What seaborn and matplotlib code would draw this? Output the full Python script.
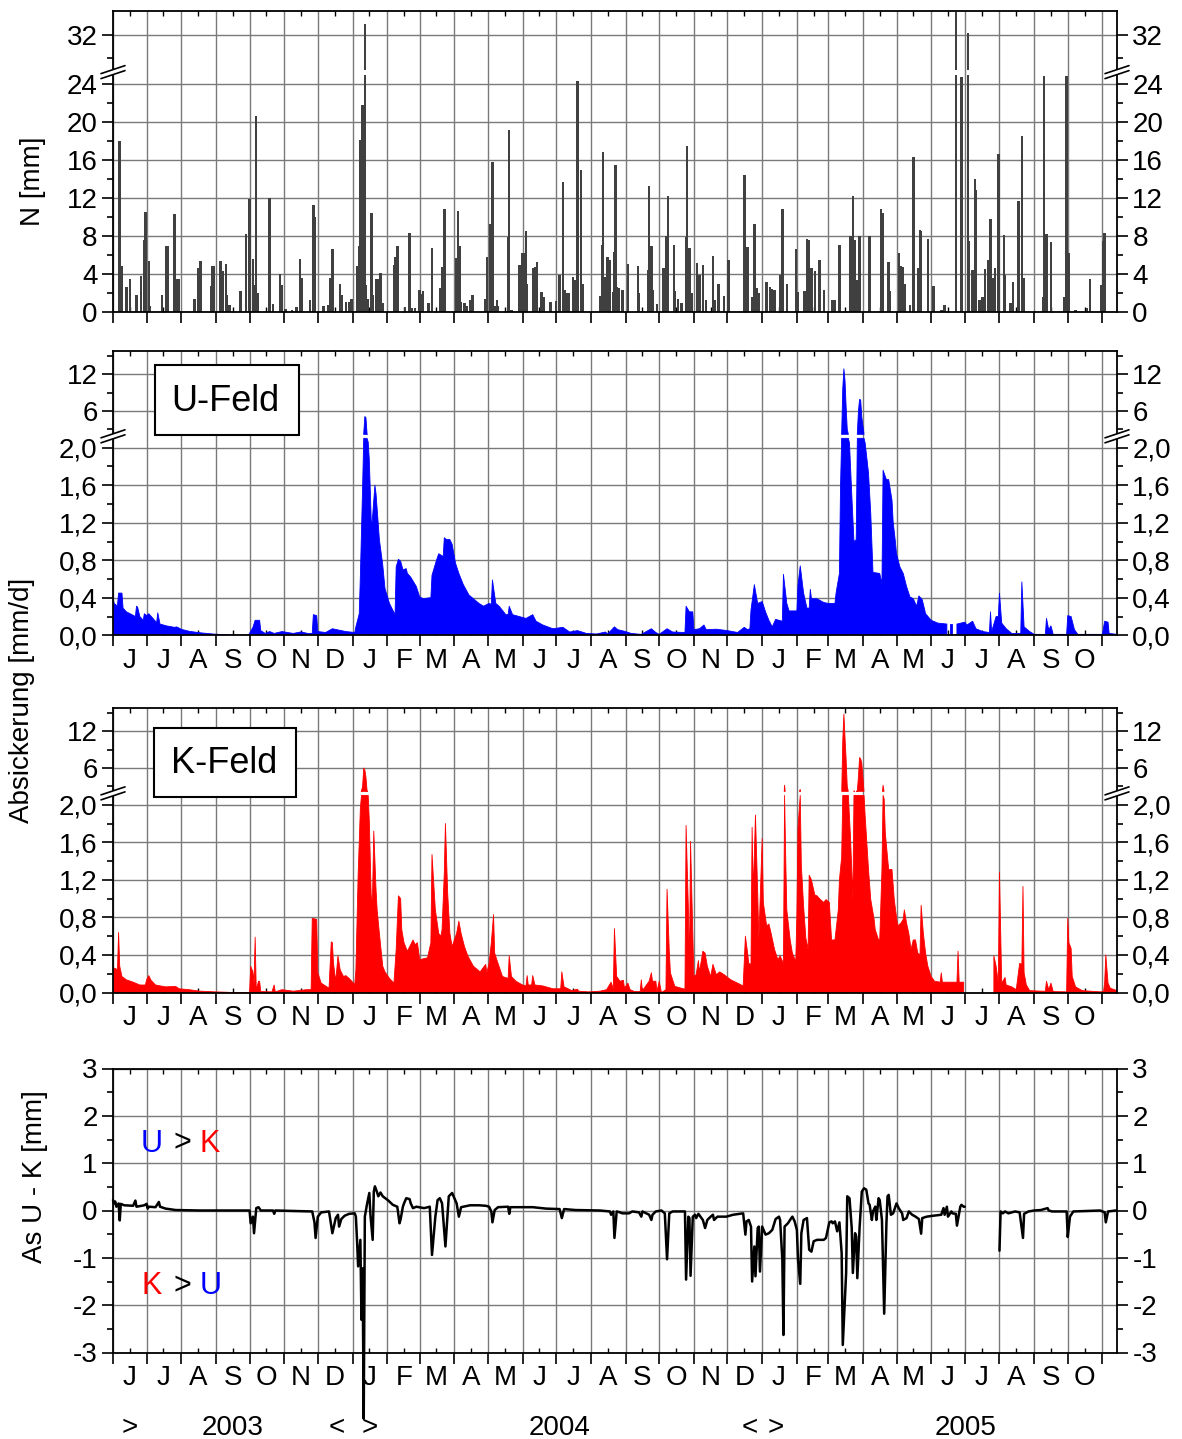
import numpy as np
import pandas as pd
import matplotlib
matplotlib.use("Agg")
import matplotlib.pyplot as plt
import matplotlib.dates as mdates
from matplotlib.ticker import FixedLocator, FixedFormatter, NullFormatter
from matplotlib.lines import Line2D
from matplotlib.patches import Polygon, Rectangle
from matplotlib.transforms import IdentityTransform, blended_transform_factory
import seaborn as sns

nan = float("nan")

# ---------------- data ----------------
# daily precipitation N [mm] (days not listed = 0)
precip = [
("2003-06-07",18.0),("2003-06-09",4.8),("2003-06-13",2.6),("2003-06-16",3.5),("2003-06-22",1.8),("2003-06-26",3.8),("2003-06-29",7.6),("2003-06-30",10.5),
("2003-07-03",5.4),("2003-07-04",0.6),("2003-07-15",1.8),("2003-07-19",6.9),("2003-07-20",6.9),("2003-07-26",10.3),("2003-07-28",3.5),("2003-07-30",3.5),
("2003-08-13",1.4),("2003-08-16",4.6),("2003-08-18",5.4),("2003-08-28",2.7),("2003-08-29",4.8),("2003-08-30",4.8),
("2003-09-05",5.4),("2003-09-07",4.3),("2003-09-10",5.1),("2003-09-11",1.8),("2003-09-13",0.7),("2003-09-23",2.2),("2003-09-28",8.2),
("2003-10-01",11.9),("2003-10-04",5.6),("2003-10-06",2.8),("2003-10-07",20.6),("2003-10-08",2.0),("2003-10-19",12.0),("2003-10-22",0.8),("2003-10-28",4.0),("2003-10-30",2.8),
("2003-11-02",0.3),("2003-11-08",0.2),("2003-11-12",0.5),("2003-11-15",5.6),("2003-11-17",3.6),("2003-11-24",1.3),("2003-11-27",11.3),("2003-11-28",10.0),
("2003-12-06",0.6),("2003-12-10",0.7),("2003-12-12",3.6),("2003-12-14",6.6),("2003-12-21",3.0),("2003-12-22",1.8),("2003-12-26",1.1),("2003-12-29",1.1),("2003-12-31",1.4),
("2004-01-05",4.8),("2004-01-07",6.9),("2004-01-08",18.1),("2004-01-10",21.8),("2004-01-12",33.9),("2004-01-13",2.8),("2004-01-15",1.4),("2004-01-18",10.4),("2004-01-19",1.8),("2004-01-22",3.5),("2004-01-24",3.5),("2004-01-26",4.1),("2004-01-28",0.9),
("2004-02-07",4.9),("2004-02-08",5.8),("2004-02-10",6.9),("2004-02-17",0.5),("2004-02-21",8.3),("2004-02-23",0.4),("2004-02-26",0.4),
("2004-03-01",2.3),("2004-03-02",1.9),("2004-03-04",2.2),("2004-03-09",0.9),("2004-03-12",6.7),("2004-03-19",2.5),("2004-03-21",4.7),("2004-03-23",10.9),
("2004-04-03",5.7),("2004-04-04",10.6),("2004-04-06",6.9),("2004-04-07",1.1),("2004-04-10",0.9),("2004-04-12",0.6),("2004-04-15",1.3),("2004-04-17",1.8),("2004-04-29",1.4),("2004-04-30",5.8),
("2004-05-03",9.3),("2004-05-04",1.3),("2004-05-05",15.8),("2004-05-07",0.6),("2004-05-09",1.3),("2004-05-10",0.6),("2004-05-19",7.9),("2004-05-20",19.2),("2004-05-22",0.2),("2004-05-29",4.9),
("2004-06-01",6.2),("2004-06-02",6.2),("2004-06-04",8.5),("2004-06-05",3.0),("2004-06-10",4.6),("2004-06-12",4.7),("2004-06-14",5.3),("2004-06-18",2.1),("2004-06-20",1.6),("2004-06-26",1.1),
("2004-07-01",1.2),("2004-07-04",3.9),("2004-07-07",13.7),("2004-07-09",2.3),("2004-07-11",2.0),("2004-07-12",2.0),("2004-07-16",3.7),("2004-07-18",3.4),("2004-07-20",24.3),("2004-07-23",15.0),("2004-07-25",2.9),
("2004-08-09",1.7),("2004-08-11",7.1),("2004-08-12",16.8),("2004-08-14",3.7),("2004-08-16",5.8),("2004-08-18",5.5),("2004-08-21",2.1),("2004-08-22",6.3),("2004-08-23",15.5),("2004-08-24",2.6),("2004-08-26",2.5),("2004-08-29",2.3),
("2004-09-03",5.1),("2004-09-12",4.8),("2004-09-13",2.0),("2004-09-21",4.4),("2004-09-22",13.3),("2004-09-24",6.9),("2004-09-25",2.3),("2004-09-29",0.8),
("2004-10-05",4.6),("2004-10-07",8.0),("2004-10-09",12.2),("2004-10-14",7.1),("2004-10-15",2.2),("2004-10-18",1.4),("2004-10-21",0.9),("2004-10-25",7.9),("2004-10-26",17.5),("2004-10-28",6.7),("2004-10-30",2.0),
("2004-11-04",5.2),("2004-11-06",3.9),("2004-11-09",4.9),("2004-11-12",1.3),("2004-11-18",5.9),("2004-11-20",1.3),("2004-11-23",3.0),("2004-11-28",1.7),
("2004-12-02",5.5),("2004-12-16",14.4),("2004-12-19",6.8),("2004-12-23",1.6),("2004-12-25",9.3),("2004-12-27",2.5),("2004-12-29",2.0),
("2005-01-05",3.2),("2005-01-08",2.6),("2005-01-10",2.4),("2005-01-12",2.3),("2005-01-17",3.9),("2005-01-19",10.9),("2005-01-23",3.0),("2005-01-31",6.6),
("2005-02-02",2.1),("2005-02-08",2.2),("2005-02-10",7.7),("2005-02-12",7.6),("2005-02-14",4.6),("2005-02-17",4.3),("2005-02-21",5.5),("2005-02-25",2.3),
("2005-03-05",1.3),("2005-03-07",1.3),("2005-03-11",7.1),("2005-03-21",8.0),("2005-03-23",12.2),("2005-03-25",7.6),("2005-03-27",3.4),("2005-03-29",8.0),
("2005-04-07",8.0),("2005-04-17",10.8),("2005-04-19",10.4),("2005-04-24",5.3),("2005-04-25",2.2),
("2005-05-03",6.2),("2005-05-05",4.8),("2005-05-07",4.7),("2005-05-08",3.0),("2005-05-13",0.7),("2005-05-16",16.3),("2005-05-20",4.6),("2005-05-22",8.6),("2005-05-23",8.5),("2005-05-29",7.7),
("2005-06-03",2.7),("2005-06-10",0.2),("2005-06-13",0.7),("2005-06-23",36.0),("2005-06-28",24.8),
("2005-07-04",32.3),("2005-07-05",7.5),("2005-07-08",4.4),("2005-07-10",14.0),("2005-07-11",12.8),("2005-07-14",1.3),("2005-07-17",1.6),("2005-07-19",4.5),("2005-07-22",5.5),("2005-07-24",9.8),("2005-07-26",3.6),("2005-07-28",4.6),("2005-07-31",16.6),
("2005-08-05",8.1),("2005-08-06",3.9),("2005-08-11",0.9),("2005-08-13",3.2),("2005-08-18",11.7),("2005-08-21",18.5),("2005-08-23",3.6),
("2005-09-09",1.6),("2005-09-10",24.9),("2005-09-12",8.2),("2005-09-16",7.4),("2005-09-28",1.6),("2005-09-30",24.9),
("2005-10-02",6.2),("2005-10-08",0.2),("2005-10-18",0.4),("2005-10-21",3.5),("2005-10-31",2.8),
("2005-11-02",7.5),("2005-11-03",8.3),
]

# seepage U-Feld [mm/d]
seep_u = [
("2003-06-01",0.41),("2003-06-02",0.34),("2003-06-04",0.32),("2003-06-05",0.32),("2003-06-06",0.45),("2003-06-09",0.45),("2003-06-10",0.29),("2003-06-13",0.25),("2003-06-18",0.22),("2003-06-21",0.20),("2003-06-22",0.31),("2003-06-23",0.30),("2003-06-25",0.20),("2003-06-28",0.16),("2003-06-29",0.23),("2003-07-01",0.21),("2003-07-03",0.23),("2003-07-06",0.19),("2003-07-10",0.135),("2003-07-11",0.24),("2003-07-13",0.12),("2003-07-19",0.10),("2003-07-26",0.085),("2003-07-28",0.09),("2003-08-01",0.064),("2003-08-08",0.043),("2003-08-17",0.028),("2003-08-29",0.014),("2003-09-08",0.007),("2003-09-15",0.0),("2003-09-30",0.0),
("2003-10-01",0.02),("2003-10-04",0.085),("2003-10-06",0.16),("2003-10-10",0.16),("2003-10-11",0.05),("2003-10-15",0.02),("2003-10-19",0.04),("2003-10-23",0.02),("2003-10-30",0.04),("2003-11-09",0.02),("2003-11-16",0.036),("2003-11-22",0.02),("2003-11-26",0.02),("2003-11-27",0.22),("2003-11-30",0.21),("2003-12-01",0.04),("2003-12-08",0.03),("2003-12-14",0.07),("2003-12-18",0.06),("2003-12-26",0.04),("2004-01-03",0.03),("2004-01-04",0.09),
("2004-01-07",0.23),("2004-01-08",0.63),("2004-01-10",1.58),("2004-01-11",2.3),("2004-01-12",5.1),("2004-01-13",4.9),("2004-01-14",2.25),("2004-01-15",2.06),("2004-01-16",1.87),("2004-01-18",1.12),("2004-01-21",1.60),("2004-01-22",1.51),("2004-01-25",1.02),("2004-01-28",0.75),("2004-01-30",0.50),("2004-02-03",0.34),("2004-02-08",0.22),("2004-02-09",0.73),("2004-02-11",0.81),("2004-02-13",0.79),("2004-02-15",0.70),("2004-02-18",0.71),("2004-02-19",0.66),("2004-02-22",0.62),("2004-02-27",0.52),("2004-03-01",0.41),("2004-03-04",0.39),("2004-03-10",0.40),("2004-03-11",0.40),("2004-03-12",0.64),("2004-03-16",0.80),("2004-03-18",0.87),("2004-03-22",0.84),("2004-03-23",1.04),("2004-03-25",1.02),("2004-03-28",1.02),("2004-03-30",0.97),("2004-04-02",0.77),("2004-04-05",0.66),("2004-04-09",0.54),("2004-04-14",0.43),("2004-04-18",0.39),("2004-04-23",0.34),("2004-04-27",0.31),("2004-05-02",0.34),("2004-05-04",0.33),("2004-05-05",0.59),("2004-05-08",0.34),("2004-05-11",0.31),("2004-05-17",0.22),("2004-05-19",0.22),("2004-05-20",0.31),("2004-05-23",0.22),("2004-05-29",0.20),("2004-06-04",0.18),("2004-06-10",0.22),("2004-06-13",0.15),("2004-06-19",0.11),("2004-06-28",0.07),("2004-07-07",0.085),("2004-07-13",0.035),("2004-07-20",0.05),("2004-07-28",0.02),("2004-08-06",0.014),("2004-08-14",0.035),("2004-08-16",0.014),("2004-08-22",0.09),("2004-08-25",0.06),
("2004-09-01",0.04),("2004-09-06",0.02),("2004-09-15",0.01),("2004-09-24",0.07),("2004-09-28",0.03),("2004-10-01",0.01),("2004-10-08",0.07),("2004-10-13",0.035),("2004-10-24",0.03),("2004-10-25",0.31),("2004-10-28",0.25),("2004-10-31",0.25),("2004-11-01",0.06),("2004-11-06",0.07),("2004-11-10",0.11),("2004-11-12",0.06),("2004-11-21",0.065),("2004-12-01",0.05),("2004-12-10",0.03),("2004-12-16",0.085),("2004-12-19",0.06),("2004-12-21",0.07),("2004-12-22",0.27),("2004-12-25",0.54),("2004-12-28",0.34),("2005-01-01",0.36),("2005-01-04",0.25),("2005-01-07",0.16),("2005-01-10",0.09),("2005-01-13",0.17),("2005-01-19",0.15),("2005-01-20",0.65),("2005-01-23",0.34),("2005-01-25",0.26),("2005-01-29",0.26),("2005-02-01",0.26),("2005-02-02",0.54),("2005-02-04",0.74),("2005-02-07",0.45),("2005-02-10",0.29),("2005-02-12",0.29),("2005-02-13",0.49),("2005-02-14",0.39),("2005-02-19",0.39),("2005-02-25",0.35),("2005-03-01",0.34),("2005-03-07",0.34),("2005-03-08",0.45),("2005-03-11",0.66),("2005-03-12",1.6),("2005-03-13",2.3),("2005-03-14",9.7),("2005-03-15",12.9),("2005-03-16",11.0),("2005-03-17",6.7),("2005-03-18",3.0),("2005-03-19",2.2),("2005-03-20",2.05),("2005-03-22",1.51),("2005-03-24",1.0),("2005-03-26",1.02),("2005-03-27",2.3),("2005-03-28",6.0),("2005-03-29",7.9),("2005-03-30",7.8),("2005-03-31",5.0),("2005-04-01",3.6),("2005-04-02",2.2),("2005-04-03",2.05),("2005-04-06",1.73),("2005-04-08",1.30),("2005-04-10",0.67),("2005-04-16",0.66),("2005-04-18",0.55),("2005-04-19",1.76),("2005-04-22",1.66),("2005-04-24",1.66),("2005-04-27",1.44),("2005-04-28",1.21),("2005-04-30",1.0),("2005-05-01",0.87),("2005-05-04",0.73),("2005-05-07",0.66),("2005-05-10",0.52),("2005-05-13",0.41),("2005-05-16",0.39),("2005-05-19",0.31),("2005-05-21",0.42),("2005-05-24",0.38),("2005-05-27",0.23),("2005-06-01",0.16),("2005-06-07",0.13),("2005-06-15",0.12),("2005-06-16",nan),("2005-06-17",nan),("2005-06-18",0.12),("2005-06-20",0.12),("2005-06-21",nan),("2005-06-23",nan),("2005-06-24",0.12),("2005-07-01",0.14),("2005-07-03",0.11),("2005-07-08",0.15),("2005-07-11",0.07),("2005-07-17",0.04),("2005-07-23",0.03),("2005-07-24",0.25),("2005-07-25",0.04),("2005-07-29",0.20),("2005-07-31",0.20),("2005-08-01",0.45),("2005-08-03",0.13),("2005-08-07",0.07),("2005-08-12",0.02),("2005-08-20",0.02),("2005-08-21",0.57),("2005-08-23",0.09),("2005-08-28",0.04),("2005-09-01",0.01),("2005-09-11",0.01),("2005-09-12",0.18),("2005-09-14",0.06),("2005-09-16",0.10),("2005-09-18",0.01),("2005-09-30",0.01),("2005-10-01",0.21),("2005-10-04",0.20),("2005-10-07",0.06),("2005-10-10",0.01),("2005-10-30",0.01),("2005-11-01",0.01),("2005-11-02",0.085),("2005-11-03",0.15),("2005-11-06",0.14),("2005-11-07",0.02),("2005-11-14",0.01),
]

# seepage K-Feld [mm/d]
seep_k = [
("2003-06-01",0.20),("2003-06-02",0.26),("2003-06-04",0.25),("2003-06-05",0.24),("2003-06-06",0.64),("2003-06-07",0.28),("2003-06-09",0.17),("2003-06-13",0.135),("2003-06-19",0.11),("2003-06-25",0.08),("2003-06-30",0.08),("2003-07-01",0.135),("2003-07-03",0.18),("2003-07-05",0.13),("2003-07-09",0.08),("2003-07-18",0.06),("2003-07-27",0.065),("2003-07-30",0.04),("2003-08-08",0.03),("2003-08-17",0.015),("2003-08-31",0.007),("2003-09-10",0.003),("2003-09-16",0.0),("2003-10-01",0.0),("2003-10-02",0.28),("2003-10-04",0.22),("2003-10-05",0.10),("2003-10-06",0.59),("2003-10-07",0.03),("2003-10-09",0.12),("2003-10-10",0.12),("2003-10-11",0.01),("2003-10-21",0.007),("2003-10-23",0.08),("2003-10-24",0.007),("2003-10-30",0.03),("2003-11-09",0.014),("2003-11-21",0.03),("2003-11-25",0.03),("2003-11-26",0.79),("2003-11-30",0.78),("2003-12-01",0.21),("2003-12-04",0.10),("2003-12-11",0.046),("2003-12-13",0.54),("2003-12-14",0.53),("2003-12-15",0.31),("2003-12-17",0.12),("2003-12-19",0.39),("2003-12-21",0.24),("2003-12-24",0.17),("2003-12-26",0.18),("2003-12-29",0.15),("2004-01-03",0.085),("2004-01-04",0.24),("2004-01-06",1.25),("2004-01-08",1.96),("2004-01-09",2.3),("2004-01-10",3.0),("2004-01-11",6.0),("2004-01-12",5.7),("2004-01-13",4.5),("2004-01-14",2.3),("2004-01-15",2.1),("2004-01-16",1.83),("2004-01-18",0.88),("2004-01-19",1.10),("2004-01-20",1.72),("2004-01-22",1.10),("2004-01-23",0.88),("2004-01-25",0.63),("2004-01-28",0.28),("2004-01-30",0.22),("2004-02-03",0.15),("2004-02-07",0.10),("2004-02-09",0.46),("2004-02-11",1.03),("2004-02-13",1.00),("2004-02-14",0.67),("2004-02-16",0.53),("2004-02-19",0.44),("2004-02-22",0.51),("2004-02-24",0.56),("2004-02-26",0.51),("2004-02-28",0.53),("2004-03-01",0.35),("2004-03-08",0.37),("2004-03-11",0.53),("2004-03-12",1.47),("2004-03-15",0.88),("2004-03-18",0.63),("2004-03-20",0.60),("2004-03-21",0.67),("2004-03-23",1.28),("2004-03-24",1.80),("2004-03-26",1.06),("2004-03-28",0.63),("2004-03-30",0.49),("2004-04-03",0.63),("2004-04-05",0.76),("2004-04-07",0.63),("2004-04-10",0.49),("2004-04-13",0.39),("2004-04-18",0.28),("2004-04-24",0.22),("2004-04-29",0.30),("2004-04-30",0.21),("2004-05-02",0.31),("2004-05-04",0.53),("2004-05-06",0.83),("2004-05-07",0.42),("2004-05-10",0.31),("2004-05-14",0.17),("2004-05-19",0.15),("2004-05-20",0.39),("2004-05-22",0.17),("2004-05-26",0.12),("2004-06-01",0.08),("2004-06-04",0.07),("2004-06-05",0.18),("2004-06-06",0.08),("2004-06-09",0.08),("2004-06-10",0.18),("2004-06-12",0.08),("2004-06-19",0.07),("2004-06-28",0.04),("2004-07-05",0.04),("2004-07-06",0.22),("2004-07-08",0.06),("2004-07-15",0.02),("2004-07-20",0.035),("2004-07-21",0.014),("2004-07-30",0.007),("2004-08-09",0.014),("2004-08-15",0.03),("2004-08-19",0.11),("2004-08-21",0.04),("2004-08-22",0.68),("2004-08-24",0.17),("2004-08-27",0.12),("2004-08-30",0.13),("2004-08-31",0.046),("2004-09-03",0.10),("2004-09-05",0.03),("2004-09-09",0.01),("2004-09-14",0.01),("2004-09-15",0.135),("2004-09-16",0.02),("2004-09-22",0.12),("2004-09-24",0.21),("2004-09-25",0.12),("2004-09-28",0.12),("2004-09-29",0.01),("2004-10-01",0.12),("2004-10-03",0.0),("2004-10-07",0.03),("2004-10-08",1.10),("2004-10-10",0.44),("2004-10-11",0.21),("2004-10-13",0.135),("2004-10-15",0.065),("2004-10-24",0.035),("2004-10-25",1.78),("2004-10-27",0.92),("2004-10-28",0.28),("2004-10-29",1.61),("2004-10-31",0.63),("2004-11-01",0.17),("2004-11-03",0.19),("2004-11-05",0.34),("2004-11-06",0.22),("2004-11-09",0.44),("2004-11-11",0.42),("2004-11-13",0.28),("2004-11-16",0.17),("2004-11-18",0.30),("2004-11-21",0.19),("2004-11-24",0.22),("2004-11-28",0.19),("2004-12-04",0.135),("2004-12-10",0.10),("2004-12-15",0.07),("2004-12-17",0.60),("2004-12-19",0.42),("2004-12-20",0.31),("2004-12-22",0.30),("2004-12-23",1.76),("2004-12-24",1.06),("2004-12-26",1.89),("2004-12-28",1.06),("2004-12-29",0.56),("2005-01-01",1.64),("2005-01-02",0.96),("2005-01-05",0.71),("2005-01-07",0.73),("2005-01-09",0.63),("2005-01-12",0.46),("2005-01-15",0.35),("2005-01-17",0.39),("2005-01-20",0.31),("2005-01-21",3.2),("2005-01-22",1.45),("2005-01-23",0.88),("2005-01-26",0.56),("2005-01-28",0.42),("2005-01-31",0.33),("2005-02-01",0.83),("2005-02-02",1.76),("2005-02-04",2.5),("2005-02-05",1.35),("2005-02-07",0.92),("2005-02-09",0.58),("2005-02-11",0.46),("2005-02-12",1.25),("2005-02-14",1.20),("2005-02-17",1.04),("2005-02-19",1.03),("2005-02-22",0.99),("2005-02-25",0.96),("2005-02-27",0.99),("2005-03-01",0.97),("2005-03-02",0.96),("2005-03-04",0.56),("2005-03-07",0.56),("2005-03-10",0.88),("2005-03-11",1.20),("2005-03-13",1.44),("2005-03-14",10.5),("2005-03-15",14.8),("2005-03-16",11.0),("2005-03-17",7.4),("2005-03-18",3.0),("2005-03-19",2.15),("2005-03-21",1.63),("2005-03-23",0.99),("2005-03-24",2.3),("2005-03-25",2.1),("2005-03-27",2.3),("2005-03-28",4.6),("2005-03-29",7.7),("2005-03-30",7.5),("2005-03-31",6.8),("2005-04-02",2.1),("2005-04-03",1.88),("2005-04-06",1.31),("2005-04-08",0.99),("2005-04-11",0.78),("2005-04-12",0.67),("2005-04-15",0.56),("2005-04-16",0.56),("2005-04-18",1.31),("2005-04-19",3.2),("2005-04-20",2.06),("2005-04-21",1.70),("2005-04-24",1.31),("2005-04-27",1.31),("2005-04-29",0.99),("2005-05-02",0.71),("2005-05-05",0.74),("2005-05-07",0.78),("2005-05-08",0.88),("2005-05-10",0.74),("2005-05-12",0.63),("2005-05-14",0.46),("2005-05-16",0.56),("2005-05-18",0.56),("2005-05-20",0.42),("2005-05-22",0.40),("2005-05-23",0.93),("2005-05-25",0.63),("2005-05-27",0.42),("2005-05-29",0.28),("2005-06-01",0.17),("2005-06-04",0.12),("2005-06-09",0.11),("2005-06-10",0.21),("2005-06-11",0.11),("2005-06-24",0.11),("2005-06-25",0.44),("2005-06-26",0.11),("2005-06-30",0.11),("2005-07-01",nan),("2005-07-26",nan),("2005-07-27",0.39),("2005-07-29",0.28),("2005-07-31",0.10),("2005-08-01",1.28),("2005-08-03",0.10),("2005-08-06",0.16),("2005-08-07",0.08),("2005-08-12",0.06),("2005-08-16",0.03),("2005-08-19",0.31),("2005-08-21",0.30),("2005-08-22",1.13),("2005-08-23",0.21),("2005-08-25",0.08),("2005-08-28",0.02),("2005-09-08",0.014),("2005-09-11",0.014),("2005-09-12",0.12),("2005-09-14",0.03),("2005-09-16",0.10),("2005-09-18",0.01),("2005-09-30",0.007),("2005-10-01",0.79),("2005-10-02",0.53),("2005-10-04",0.47),("2005-10-05",0.17),("2005-10-08",0.06),("2005-10-14",0.02),("2005-10-30",0.007),("2005-11-02",0.01),("2005-11-03",0.11),("2005-11-04",0.40),("2005-11-06",0.10),("2005-11-08",0.046),("2005-11-14",0.02),
]

# difference As U - K [mm]
diff_uk = [
("2003-06-01",0.22),("2003-06-02",0.15),("2003-06-03",0.19),("2003-06-04",0.08),("2003-06-06",0.15),("2003-06-07",-0.21),("2003-06-08",0.14),("2003-06-11",0.11),("2003-06-19",0.10),("2003-06-21",0.21),("2003-06-22",0.08),("2003-06-29",0.11),("2003-07-01",0.14),("2003-07-02",0.04),("2003-07-03",0.08),("2003-07-09",0.07),("2003-07-12",0.18),("2003-07-13",0.08),("2003-07-18",0.04),("2003-07-27",0.01),("2003-08-17",0.0),("2003-10-01",0.0),("2003-10-02",-0.27),("2003-10-04",-0.13),("2003-10-05",-0.48),("2003-10-07",0.05),("2003-10-09",0.07),("2003-10-11",0.0),("2003-10-22",0.0),("2003-10-23",-0.07),("2003-10-24",0.0),("2003-11-26",-0.02),("2003-11-28",-0.25),("2003-11-29",-0.58),("2003-12-01",-0.13),("2003-12-04",-0.04),("2003-12-11",-0.02),("2003-12-14",-0.48),("2003-12-17",-0.16),("2003-12-19",-0.09),("2003-12-20",-0.34),("2003-12-22",-0.18),("2003-12-25",-0.11),("2003-12-29",-0.07),("2004-01-03",-0.06),("2004-01-04",-0.13),("2004-01-05",-0.62),("2004-01-06",-1.18),("2004-01-08",-0.62),("2004-01-09",-2.31),("2004-01-10",-1.22),("2004-01-11",-4.4),("2004-01-12",-0.13),("2004-01-14",0.14),("2004-01-16",0.37),("2004-01-17",-0.09),("2004-01-19",-0.62),("2004-01-20",0.40),("2004-01-21",0.51),("2004-01-23",0.38),("2004-01-24",0.30),("2004-01-26",0.38),("2004-01-28",0.30),("2004-02-02",0.21),("2004-02-06",0.12),("2004-02-10",0.08),("2004-02-12",-0.27),("2004-02-13",-0.18),("2004-02-15",0.08),("2004-02-16",0.15),("2004-02-18",0.26),("2004-02-21",0.24),("2004-02-22",0.15),("2004-02-24",0.05),("2004-02-27",0.08),("2004-03-05",0.05),("2004-03-10",0.08),("2004-03-12",-0.94),("2004-03-15",-0.13),("2004-03-17",0.22),("2004-03-19",0.26),("2004-03-21",0.15),("2004-03-24",-0.76),("2004-03-26",-0.06),("2004-03-27",0.30),("2004-03-30",0.37),("2004-04-01",0.26),("2004-04-03",0.15),("2004-04-05",-0.13),("2004-04-07",0.07),("2004-04-15",0.11),("2004-04-23",0.11),("2004-04-29",0.10),("2004-05-02",0.08),("2004-05-04",-0.02),("2004-05-05",-0.25),("2004-05-07",0.01),("2004-05-10",0.07),("2004-05-19",0.08),("2004-05-20",-0.07),("2004-05-21",0.07),("2004-06-10",0.07),("2004-06-22",0.04),("2004-07-04",0.03),("2004-07-06",-0.16),("2004-07-08",0.03),("2004-07-18",0.01),("2004-08-09",0.0),("2004-08-18",-0.02),("2004-08-19",-0.09),("2004-08-21",-0.02),("2004-08-22",-0.58),("2004-08-24",-0.02),("2004-08-27",-0.04),("2004-08-29",-0.06),("2004-09-04",-0.06),("2004-09-07",-0.02),("2004-09-13",-0.04),("2004-09-15",-0.13),("2004-09-16",-0.02),("2004-09-22",-0.09),("2004-09-24",-0.20),("2004-09-25",-0.09),("2004-09-28",-0.02),("2004-10-03",0.0),("2004-10-06",-0.06),("2004-10-08",-1.03),("2004-10-10",-0.06),("2004-10-13",-0.02),("2004-10-24",-0.02),("2004-10-25",-1.46),("2004-10-27",-0.13),("2004-10-28",-0.16),("2004-10-29",-1.38),("2004-10-31",-0.13),("2004-11-02",-0.09),("2004-11-03",-0.16),("2004-11-05",-0.07),("2004-11-09",-0.20),("2004-11-11",-0.37),("2004-11-13",-0.20),("2004-11-16",-0.13),("2004-11-18",-0.09),("2004-11-19",-0.20),("2004-11-22",-0.13),("2004-11-30",-0.13),("2004-12-06",-0.09),("2004-12-15",-0.06),("2004-12-17",-0.51),("2004-12-18",-0.23),("2004-12-20",-0.20),("2004-12-22",-0.34),("2004-12-23",-1.50),("2004-12-25",-0.76),("2004-12-26",-1.39),("2004-12-28",-0.37),("2004-12-29",-0.34),("2004-12-30",-1.29),("2005-01-01",-0.34),("2005-01-04",-0.51),("2005-01-07",-0.48),("2005-01-10",-0.41),("2005-01-13",-0.18),("2005-01-16",-0.13),("2005-01-17",-0.20),("2005-01-19",-1.04),("2005-01-20",-2.63),("2005-01-21",-0.34),("2005-01-24",-0.27),("2005-01-27",-0.16),("2005-01-28",-0.13),("2005-01-30",-0.23),("2005-02-01",-0.41),("2005-02-02",-1.04),("2005-02-04",-1.55),("2005-02-05",-0.48),("2005-02-07",-0.20),("2005-02-10",-0.16),("2005-02-12",-0.83),("2005-02-14",-0.87),("2005-02-16",-0.65),("2005-02-19",-0.62),("2005-02-22",-0.62),("2005-02-25",-0.62),("2005-02-27",-0.58),("2005-03-02",-0.25),("2005-03-04",-0.23),("2005-03-05",-0.27),("2005-03-07",-0.23),("2005-03-09",-0.44),("2005-03-11",-0.25),("2005-03-13",-0.90),("2005-03-14",-2.84),("2005-03-17",-1.32),("2005-03-18",0.30),("2005-03-20",0.26),("2005-03-22",-0.37),("2005-03-23",-1.32),("2005-03-25",-0.48),("2005-03-26",-0.55),("2005-03-27",-1.43),("2005-03-29",-0.37),("2005-03-31",0.40),("2005-04-02",0.47),("2005-04-04",0.44),("2005-04-06",0.15),("2005-04-07",0.12),("2005-04-09",-0.20),("2005-04-10",-0.02),("2005-04-12",0.08),("2005-04-13",-0.20),("2005-04-15",0.26),("2005-04-16",0.22),("2005-04-18",-0.20),("2005-04-20",-2.18),("2005-04-22",-0.27),("2005-04-23",0.30),("2005-04-24",0.33),("2005-04-26",-0.09),("2005-04-28",-0.06),("2005-04-30",0.08),("2005-05-01",0.15),("2005-05-03",0.05),("2005-05-06",-0.06),("2005-05-07",-0.20),("2005-05-10",-0.16),("2005-05-12",-0.02),("2005-05-15",-0.09),("2005-05-18",-0.13),("2005-05-21",-0.18),("2005-05-23",-0.49),("2005-05-24",-0.16),("2005-05-28",-0.13),("2005-06-03",-0.11),("2005-06-10",-0.09),("2005-06-12",0.05),("2005-06-13",-0.09),("2005-06-15",0.08),("2005-06-16",-0.13),("2005-06-19",-0.02),("2005-06-20",-0.06),("2005-06-23",-0.07),("2005-06-24",-0.32),("2005-06-26",-0.06),("2005-06-27",0.08),("2005-06-28",0.12),("2005-06-30",0.08),("2005-07-01",0.08),("2005-07-02",nan),("2005-07-31",nan),("2005-08-01",-0.85),("2005-08-02",-0.02),("2005-08-04",-0.06),("2005-08-06",-0.02),("2005-08-09",-0.06),("2005-08-15",-0.02),("2005-08-19",-0.04),("2005-08-22",-0.58),("2005-08-23",-0.07),("2005-08-27",-0.02),("2005-09-01",0.0),("2005-09-07",0.01),("2005-09-13",0.05),("2005-09-14",0.0),("2005-09-17",-0.02),("2005-09-30",-0.02),("2005-10-01",-0.56),("2005-10-02",-0.34),("2005-10-03",-0.13),("2005-10-06",-0.02),("2005-10-30",0.0),("2005-11-03",-0.04),("2005-11-04",-0.25),("2005-11-06",-0.02),("2005-11-13",0.0),
]

month_initials = ["J", "F", "M", "A", "M", "J", "J", "A", "S", "O", "N", "D"]
year_marks = [("2003-06-16", ">"), ("2003-09-16", "2003"), ("2003-12-18", "<"),
              ("2004-01-16", ">"), ("2004-07-04", "2004"), ("2004-12-21", "<"),
              ("2005-01-13", ">"), ("2005-07-02", "2005")]

n_ticks = [0, 4, 8, 12, 16, 20, 24, 32]
n_minor = [2, 6, 10, 14, 18, 22, 28]
as_ticks = [0.0, 0.4, 0.8, 1.2, 1.6, 2.0, 6, 12]
as_labels = ["0,0", "0,4", "0,8", "1,2", "1,6", "2,0", "6", "12"]
as_minor = [0.2, 0.6, 1.0, 1.4, 1.8, 3, 9, 15]
d_ticks = [-3, -2, -1, 0, 1, 2, 3]
d_minor = [-2.5, -1.5, -0.5, 0.5, 1.5, 2.5]

# ---------------- style ----------------
sns.set_theme(style="white")
plt.rcParams["font.family"] = ["Liberation Sans", "DejaVu Sans"]
plt.rcParams["axes.unicode_minus"] = False
plt.rcParams["text.color"] = "black"
plt.rcParams["axes.labelcolor"] = "black"
plt.rcParams["xtick.color"] = "black"
plt.rcParams["ytick.color"] = "black"

W, H = 1182, 1439
fig = plt.figure(figsize=(W / 100, H / 100), dpi=100)


def add_ax(l, t, r, b):
    return fig.add_axes([l / W, 1 - b / H, (r - l) / W, (b - t) / H])


ax1 = add_ax(113, 11, 1117, 312)
ax2 = add_ax(113, 351, 1117, 635.3)
ax3 = add_ax(113, 708, 1117, 992.5)
ax4 = add_ax(113, 1068.5, 1117, 1352.5)


def piecewise(vk, fk):
    vk = np.asarray(vk, float)
    fk = np.asarray(fk, float)
    return (lambda v: np.interp(v, vk, fk)), (lambda f: np.interp(f, fk, vk))


scale_n = piecewise([-100, 0, 25, 26, 100], [-100, 0, 25, 25.53, 25.53 + 74 * 0.605])
scale_as = piecewise([-10, 0, 2.1, 2.2, 100], [-10, 0, 2.1, 2.143, 2.143 + 97.8 * 0.0653])

X0, X1 = pd.Timestamp("2003-06-01"), pd.Timestamp("2005-11-14")
month_starts = pd.date_range("2003-06-01", "2005-11-01", freq="MS")
mids = month_starts[:-1] + pd.Timedelta(days=15)
mid_labels = [month_initials[m.month - 1] for m in mids]

GRID = "#7a7a7a"


def style_x(ax, labels):
    ax.set_xlim(X0, X1)
    ax.xaxis.set_major_locator(FixedLocator(mdates.date2num(month_starts)))
    ax.xaxis.set_major_formatter(NullFormatter())
    ax.xaxis.set_minor_locator(FixedLocator(mdates.date2num(mids)))
    ax.xaxis.set_minor_formatter(FixedFormatter(mid_labels) if labels else NullFormatter())
    ax.tick_params(axis="x", which="major", direction="out", length=8, width=1.2,
                   bottom=True, top=False, color="black")
    ax.tick_params(axis="x", which="minor", direction="in", length=3.5, width=1.0,
                   bottom=True, top=True, color="black", labelsize=20, pad=9,
                   labelbottom=labels, labelcolor="black")


def style_y(ax, major, labels, minor, lim):
    ax.set_ylim(*lim)
    ax.yaxis.set_major_locator(FixedLocator(major))
    ax.yaxis.set_major_formatter(FixedFormatter(labels))
    ax.yaxis.set_minor_locator(FixedLocator(minor))
    ax.yaxis.set_minor_formatter(NullFormatter())
    ax.tick_params(axis="y", which="major", direction="out", length=8, width=1.2,
                   left=True, right=True, labelleft=True, labelright=True,
                   labelsize=20, pad=3, color="black", labelcolor="black")
    ax.tick_params(axis="y", which="minor", direction="out", length=4, width=1.2,
                   left=True, right=True, color="black")


def common(ax):
    ax.set_axisbelow(True)
    ax.grid(True, which="major", color=GRID, linewidth=1.0)
    ax.grid(False, which="minor")
    for s in ax.spines.values():
        s.set_visible(True)
        s.set_color("black")
        s.set_linewidth(1.3)
    ax.set_xlabel("")
    ax.set_ylabel("")


# ---- panel 1: precipitation bars ----
p_dt = pd.to_datetime([d for d, _ in precip])
p_val = np.array([v for _, v in precip])
ax1.set_yscale("function", functions=scale_n)
ax1.bar(p_dt, np.minimum(p_val, 25.0), width=2.2, color="#404040", linewidth=0)
hi = p_val > 26
ax1.bar(p_dt[hi], p_val[hi] - 26, bottom=26, width=2.2, color="#404040", linewidth=0)
style_x(ax1, labels=False)
style_y(ax1, n_ticks, [str(t) for t in n_ticks], n_minor, (0, 36.2))
common(ax1)


# ---- panels 2 & 3: seepage ----
def seepage(ax, series, color):
    dt = pd.to_datetime([d for d, _ in series])
    v = np.array([x for _, x in series], float)
    ax.set_yscale("function", functions=scale_as)
    ax.fill_between(dt, 0, np.minimum(v, 2.1), facecolor=color, edgecolor=color, linewidth=0.6)
    vz = np.nan_to_num(v, nan=0.0)
    up = vz > 2.2
    ax.fill_between(dt, 2.2, vz, where=up, interpolate=True,
                    facecolor=color, edgecolor=color, linewidth=0.6)
    style_x(ax, labels=True)
    style_y(ax, as_ticks, as_labels, as_minor, (0, 15.8))
    common(ax)


seepage(ax2, seep_u, "#0000ff")
seepage(ax3, seep_k, "#ff0000")

# ---- panel 4: difference line ----
d_df = pd.DataFrame({"date": pd.to_datetime([d for d, _ in diff_uk]),
                     "diff": [v for _, v in diff_uk]})
d_df["seg"] = d_df["diff"].isna().cumsum()
d_df = d_df.dropna()
sns.lineplot(data=d_df, x="date", y="diff", units="seg", estimator=None,
             color="black", linewidth=1.8, ax=ax4, legend=False)
for ln in ax4.lines:
    ln.set_clip_on(False)
style_x(ax4, labels=True)
style_y(ax4, d_ticks, [str(t) for t in d_ticks], d_minor, (-3, 3))
common(ax4)

yt = blended_transform_factory(ax4.transData, ax4.transAxes)
for d, s in year_marks:
    ax4.text(mdates.date2num(pd.Timestamp(d)), (1352.5 - 1435) / 284.0, s,
             transform=yt, ha="center", va="baseline", fontsize=20, color="black")


# ---- axis-break marks ----
def draw_break(ax, vb):
    bt = blended_transform_factory(ax.transAxes, ax.transData)
    for xa in (0.0, 1.0):
        xd, yd = bt.transform((xa, vb))
        hw, rise, sep = 12.0, 4.0, 2.5

        def yl(x, off):
            return yd + off + rise * (x - xd) / hw

        poly = Polygon([[xd - 5, yl(xd - 5, -sep)], [xd + 5, yl(xd + 5, -sep)],
                        [xd + 5, yl(xd + 5, sep)], [xd - 5, yl(xd - 5, sep)]],
                       closed=True, facecolor="white", edgecolor="none",
                       transform=IdentityTransform(), zorder=19)
        fig.add_artist(poly)
        for off in (-sep, sep):
            fig.add_artist(Line2D([xd - hw, xd + hw], [yl(xd - hw, off), yl(xd + hw, off)],
                                  color="black", linewidth=1.2,
                                  transform=IdentityTransform(), zorder=20))


draw_break(ax1, 25.5)
draw_break(ax2, 2.15)
draw_break(ax3, 2.15)


# ---- boxes and texts ----
def px(x, y):
    return x / W, 1 - y / H


def label_box(l, t, r, b, text, tx, ty):
    fig.add_artist(Rectangle(px(l, b), (r - l) / W, (b - t) / H, transform=fig.transFigure,
                             facecolor="white", edgecolor="black", linewidth=1.5, zorder=5))
    fig.text(*px(tx, ty), text, fontsize=26, ha="left", va="baseline", zorder=6, color="black")


label_box(155, 365, 299, 435, "U-Feld", 171, 411)
label_box(154.3, 727.7, 296, 796.7, "K-Feld", 171, 773.3)

fig.text(*px(141, 1151.7), "U", color="#0000ff", fontsize=22, ha="left", va="baseline")
fig.text(*px(182, 1151.7), ">", color="black", fontsize=22, ha="center", va="baseline")
fig.text(*px(200, 1151.7), "K", color="#ff0000", fontsize=22, ha="left", va="baseline")
fig.text(*px(141, 1294.3), "K", color="#ff0000", fontsize=22, ha="left", va="baseline")
fig.text(*px(182, 1294.3), ">", color="black", fontsize=22, ha="center", va="baseline")
fig.text(*px(200, 1294.3), "U", color="#0000ff", fontsize=22, ha="left", va="baseline")

fig.text(*px(33, 181), "N [mm]", rotation=90, ha="center", va="center", fontsize=20, color="black")
fig.text(*px(22, 700), "Absickerung [mm/d]", rotation=90, ha="center", va="center", fontsize=20, color="black")
fig.text(*px(35, 1177), "As U - K [mm]", rotation=90, ha="center", va="center", fontsize=20, color="black")

fig.savefig("out.png", dpi=100, facecolor="white")
